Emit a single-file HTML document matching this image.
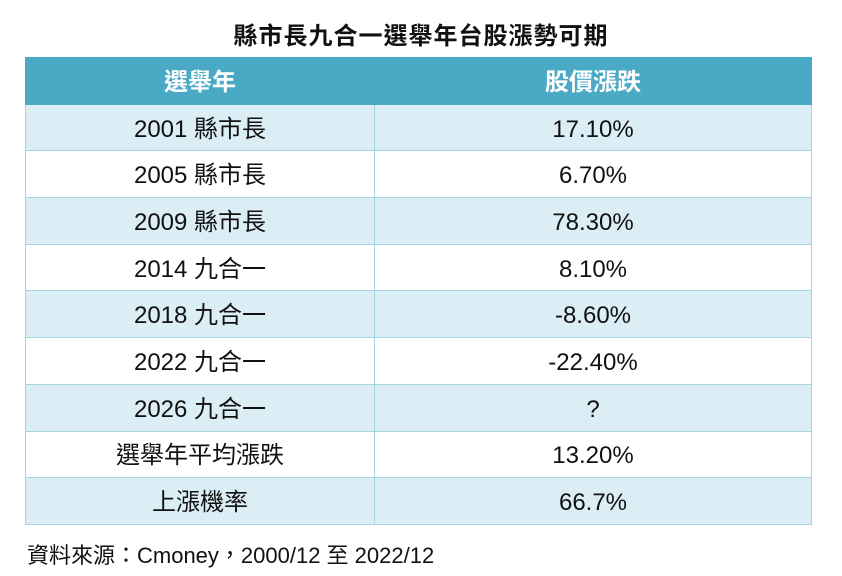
<!DOCTYPE html>
<html><head><meta charset="utf-8"><style>
body{margin:0;width:842px;height:576px;background:#fff;font-family:"Liberation Sans","Noto Sans CJK TC",sans-serif;position:relative;overflow:hidden}
.t{position:absolute;top:20px;left:0;width:842px;text-align:center;font-size:24px;line-height:34px;font-weight:bold;color:#111;letter-spacing:1px}
table{position:absolute;left:25px;top:57px;width:787px;border-collapse:collapse}
td,th{height:46.7px;padding:4px 0 0 0;text-align:center;font-size:24px;line-height:40px;color:#111;border:1px solid #a6d3e1;box-sizing:border-box;vertical-align:middle}
th{background:#4aaac5;color:#fff;font-weight:bold;border-color:#4aaac5}
td:first-child,th:first-child{width:349px}
tr:nth-child(even) td{background:#dbeef5}
tr:nth-child(odd) td{background:#fff}
.s{position:absolute;left:27px;top:539px;font-size:22px;line-height:34px;color:#111}
</style></head><body>
<div class="t">縣市長九合一選舉年台股漲勢可期</div>
<table>
<tr><th>選舉年</th><th>股價漲跌</th></tr>
<tr><td>2001 縣市長</td><td>17.10%</td></tr>
<tr><td>2005 縣市長</td><td>6.70%</td></tr>
<tr><td>2009 縣市長</td><td>78.30%</td></tr>
<tr><td>2014 九合一</td><td>8.10%</td></tr>
<tr><td>2018 九合一</td><td>-8.60%</td></tr>
<tr><td>2022 九合一</td><td>-22.40%</td></tr>
<tr><td>2026 九合一</td><td>?</td></tr>
<tr><td>選舉年平均漲跌</td><td>13.20%</td></tr>
<tr><td>上漲機率</td><td>66.7%</td></tr>
</table>
<div class="s">資料來源：Cmoney，2000/12 至 2022/12</div>
</body></html>
